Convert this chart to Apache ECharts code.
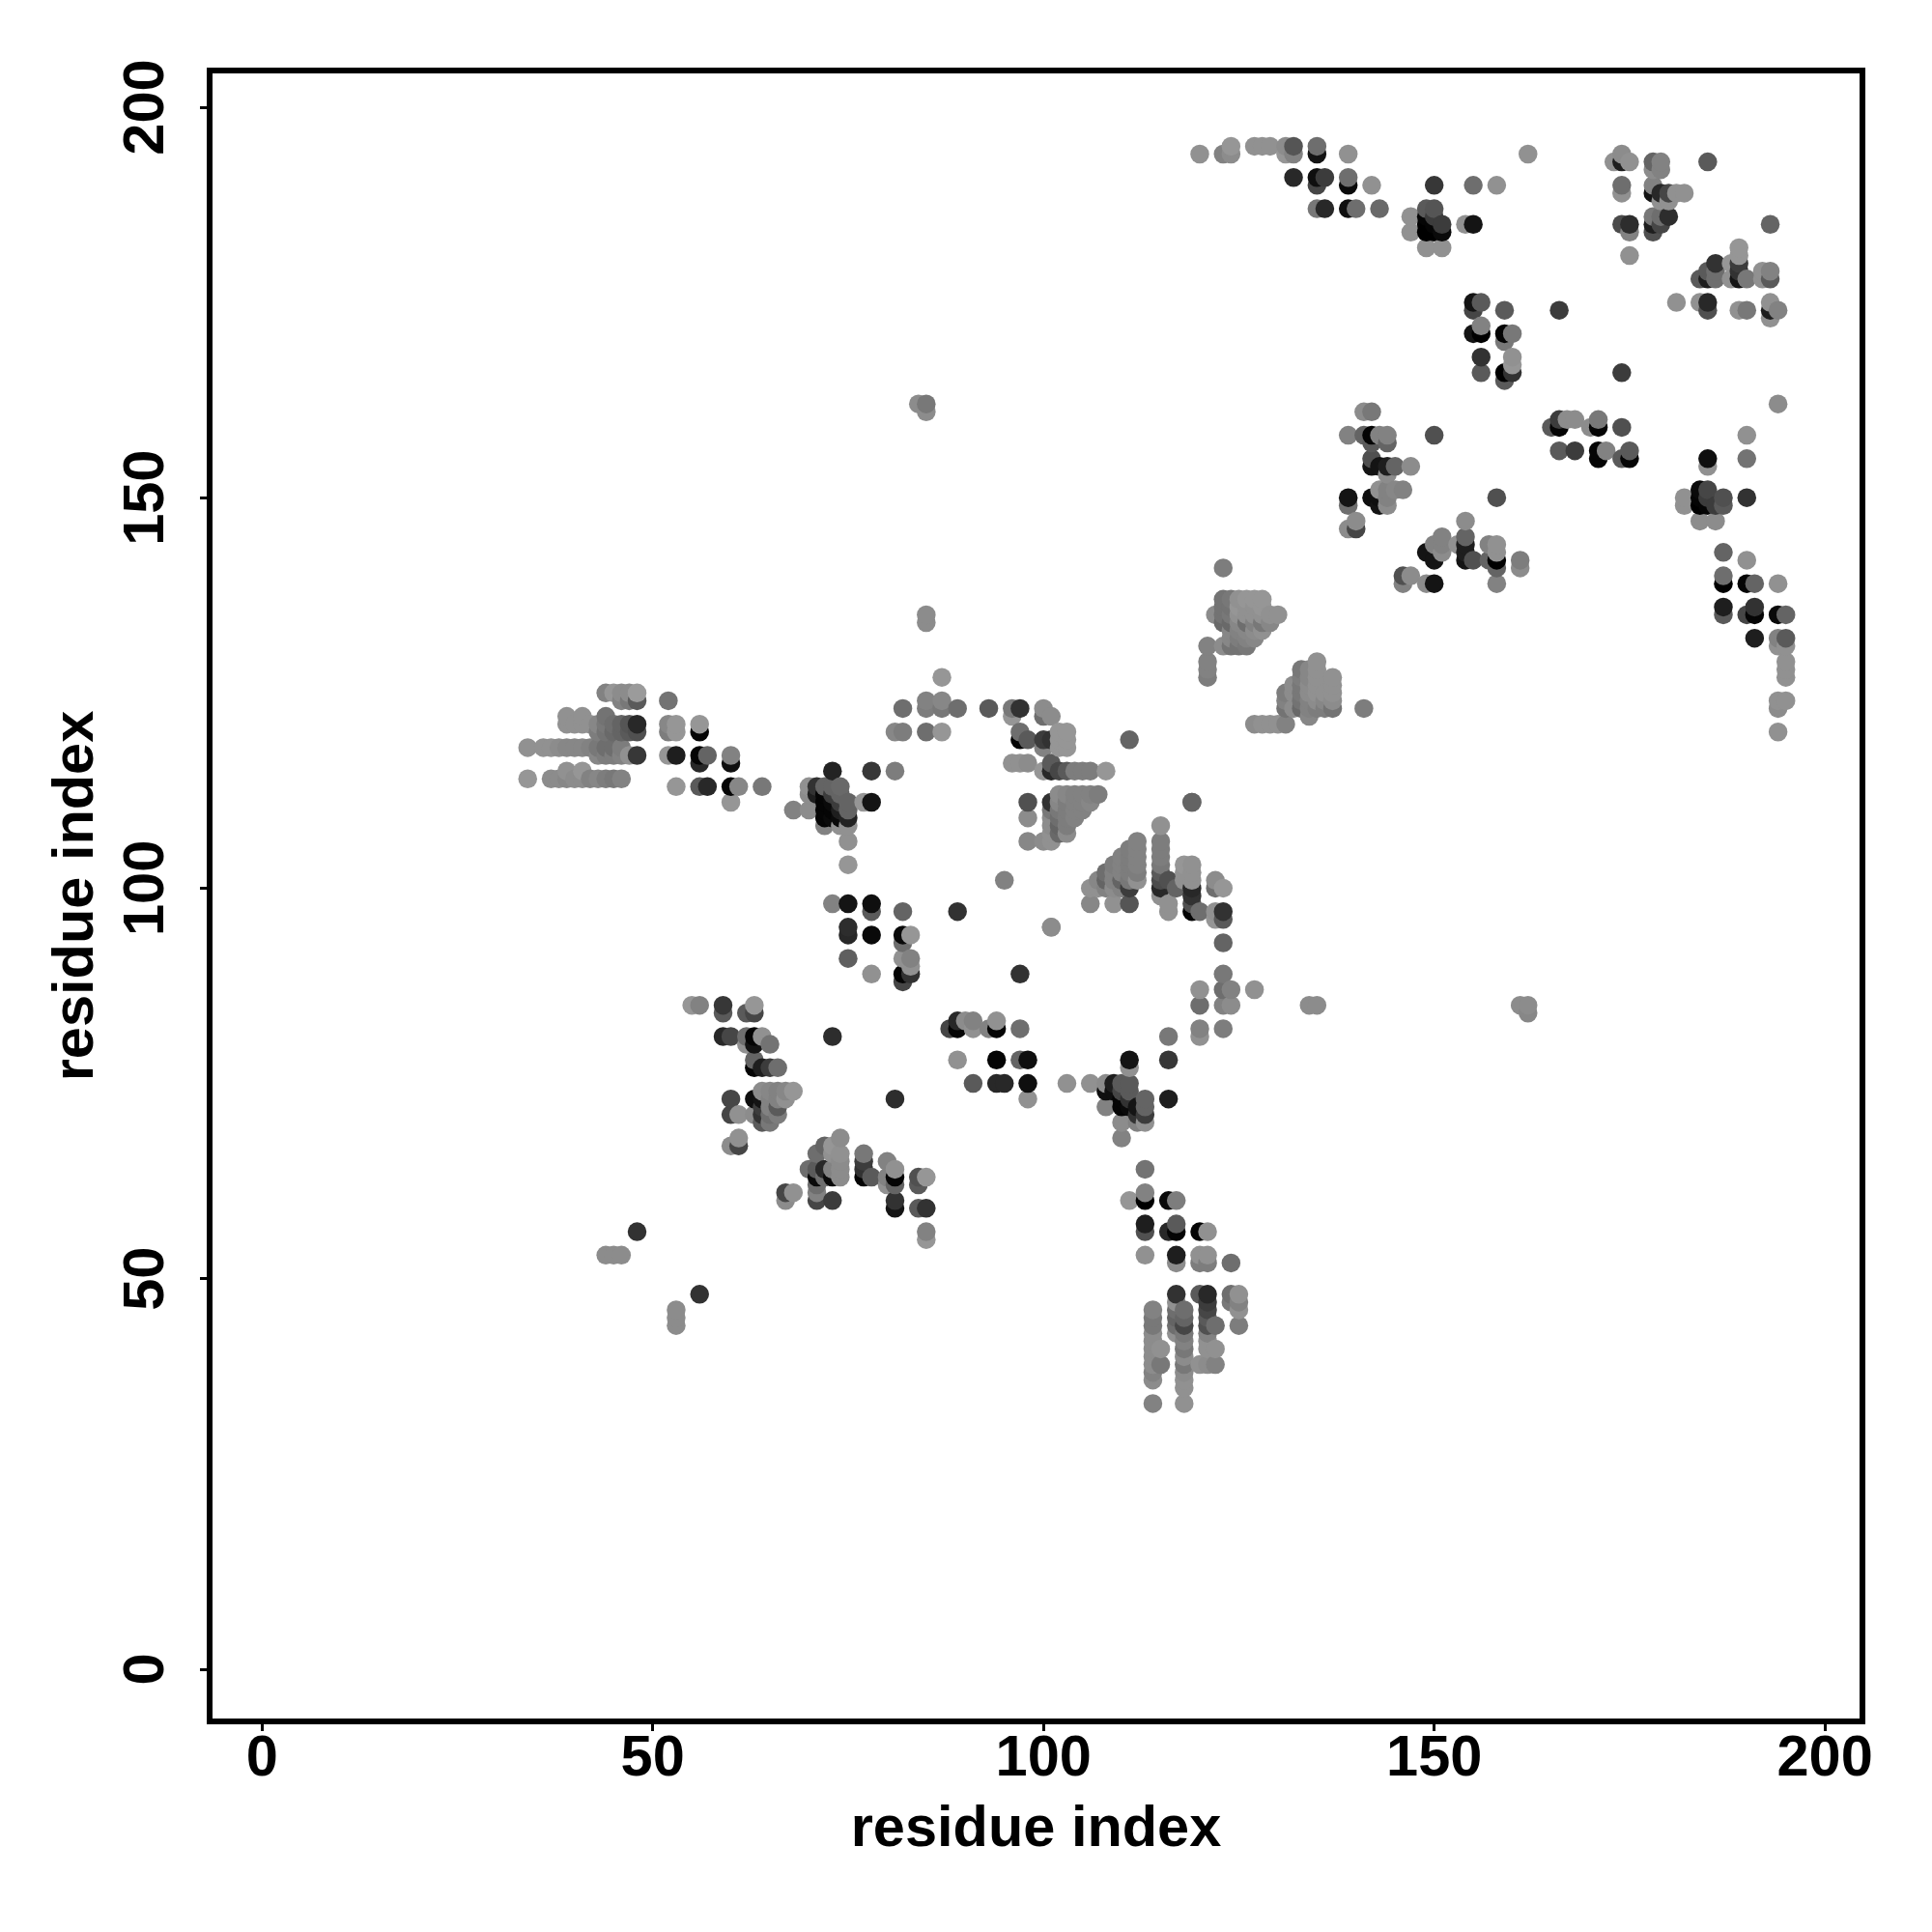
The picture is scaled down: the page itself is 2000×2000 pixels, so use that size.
<!DOCTYPE html>
<html><head><meta charset="utf-8"><style>html,body{margin:0;background:#fff}#c{width:2000px;height:2000px}</style>
<script src="https://cdn.jsdelivr.net/npm/echarts@6/dist/echarts.min.js"></script></head><body><div id="c"></div>
<script>
// each row: residue y, then pairs of residue x and grey level
const helixA=[
[125,44,130,45,150,46,140,47,140,48,155],[124,46,130,47,120,48,90],[122,39,145,41,145,44,115],
[121,39,145,40,145,41,145,42,145,43,135,44,120,45,110,46,100,47,85,48,40],[120,43,125,44,115,45,105,46,100,47,90,48,80],
[118,34,145,36,145,37,145,38,140,39,135,40,135,41,135,42,130,43,120,44,110,45,110,46,125],
[117,43,135,44,125,45,125,46,130,47,145,48,55],[115,39,145,41,150],
[114,34,150,37,140,38,140,39,135,40,140,41,140,42,130,43,135,44,125,45,120,46,130],
[124,52,115],[121,52,135,53,150,56,150],[120,52,125,53,150,56,5],[117,52,150,53,30,56,5,57,100,60,130],
[116,56,40,60,15],[113,53,150,56,90,57,40,60,5,61,135,64,120],[111,60,150]];
const clusterB=[
[115,73,35,78,55,81,125],[113,70,145,71,50,72,100,73,100,74,105],[112,70,140,71,30,72,5,73,60,74,100],
[111,72,5,73,10,74,60,75,100,77,150,78,20],[110,68,130,70,140,72,5,73,5,74,30,75,100],[109,72,5,73,10,74,10,75,35],
[108,72,130,74,145,75,145],[106,75,145],[103,75,150],[98,73,130,75,20,78,15],[97,78,90,82,100,89,50],
[95,75,45,101,140],[94,75,40,78,10,82,10,83,150],[93,82,110],[91,75,95,82,145,83,130],[90,83,145],
[89,78,145,82,5,83,50,97,50],[88,82,70],[101,95,130],
[127,87,150],[124,85,130,87,135],[123,82,110,85,125,87,120,89,110],[120,81,135,82,125,85,110,87,150]];
const clusterC=[
[123,93,90,96,120,97,50,100,140],[122,96,150,100,110,101,140],[120,97,110,102,150,103,150],
[119,97,5,98,90,100,60,101,50,102,150,103,150,111,100],[118,100,130,102,150,103,150],[116,96,145,97,145,98,140,101,90],
[115,100,150,101,40,102,70,103,90,104,125,105,125,106,125,108,150],
[112,102,140,103,135,104,130,105,130,106,130,107,125],[111,98,80,101,50,102,135,103,125,104,130,105,130,106,135,119,100],
[110,101,120,102,120,103,125,104,130,105,130],[109,98,140,101,140,102,110,103,125,104,130],[108,101,140,102,100,103,125],
[107,101,145,102,105,103,140],[106,98,135,100,140,101,145]];
const triangleD=[
[106,112,130],[105,111,125,112,130],[104,110,130,111,125,112,130],[103,109,125,110,130,111,125,112,130],
[102,108,110,109,130,110,130,111,125,112,125],[101,107,135,108,100,109,130,110,100,111,120,112,145],
[100,106,145,107,145,108,130,109,140,110,130,111,60],[98,106,135,109,145,111,85],
[108,115,145],[106,115,125],[105,115,125],[104,115,125],[103,115,120,118,150,119,145],[102,115,90,118,145,119,145],
[101,115,75,116,80,118,145,119,145,122,140],[100,115,40,117,100,119,40,122,110,123,150],[99,115,145,119,50],
[98,116,145,119,80],[97,116,145,119,5,120,110,122,145,123,50],[96,122,150,123,90],[93,123,100],
[111,119,100],[95,101,140]];
const triangleE=[
[141,123,125],[137,123,115,124,120,125,145,126,150,127,150,128,150],[136,123,115,124,115,125,150,126,145,127,145,128,150],
[135,122,140,123,115,124,120,125,145,126,145,127,145,128,145,129,145,130,145],[134,123,105,124,105,125,135,126,110,127,130,128,120,129,135],
[133,124,135,125,130,126,135,127,140,128,145],[132,124,135,125,125,126,130,127,135],[131,121,130,123,140,124,115,125,115,126,120],
[129,121,130,135,145],[128,121,130,133,120,134,135,135,145],[127,121,125,133,125,134,135,135,145,137,145],
[126,132,140,133,120,134,140,135,145,137,145],[125,131,125,132,140,133,120,134,140,135,145,136,145,137,145],
[124,131,130,133,115,134,130,135,140,136,135,137,140],[123,131,115,132,140,133,105,134,130,135,125,136,125,137,115,141,125],
[122,134,135],[121,127,140,128,145,129,145,130,145,131,130]];
const topLeft=[
[195,124,150,127,145,128,145,129,145,131,140,132,85,135,110],[194,120,145,123,130,124,140,131,150,132,130,135,20,139,145,162,145],
[191,132,40,135,15,136,60,139,110],[190,135,70,139,10,142,145,150,55,155,110,158,145],
[187,135,120,136,40,139,15,140,110,143,105,149,90,150,85],[186,147,145,149,5,150,60],[185,149,0,150,5,151,60,154,145,155,20],
[184,147,145,149,0,150,0,151,10],[182,149,145,151,145],[175,155,20,156,90],[174,155,70,159,90,166,60],
[172,156,130],[171,155,20,156,0,159,5,160,120],[170,159,120],[168,156,50,160,145],[167,160,150],[166,156,90,159,0,160,50,174,60],[165,159,90]];
const topRight=[
[194,174,140],[193,173,145,174,30,175,145,178,100,179,130,185,90],[192,178,140,179,130],[190,174,110,178,130],
[189,174,145,178,20,179,40,180,70,181,145,182,145],[188,179,145,180,145],[186,178,120,179,110,180,45],[185,174,75,175,45,178,30,179,70,193,100],
[184,175,130,178,80],[181,175,145],[182,189,150],[181,189,150],[180,186,50,188,150,189,60],[179,185,90,186,110,189,50,192,145,193,130],
[178,184,90,185,30,186,110,188,145,189,20,190,120,192,145,193,90],[175,181,145,184,145,185,40,193,145],[174,185,80,189,145,190,120,193,30,194,130],[173,193,145],[162,194,140]];
const midRight=[
[161,141,140,142,120],[158,139,130,141,100,142,5,143,130,144,130,150,80,190,145],[157,142,90,144,100],[155,142,80,185,15,190,115],
[154,142,20,143,20,144,30,145,100,147,140,185,145],[153,144,140],[151,143,145,144,130,145,135,146,130,184,10,185,70],
[150,139,20,142,15,143,15,144,130,158,80,182,145,184,5,185,60,187,80,190,50],[149,139,110,143,20,144,140,182,145,184,0,185,5,186,60,187,90],
[147,140,140,154,140,184,140,186,140],[146,139,140,140,70],[145,151,130,154,100],[144,150,130,151,130,153,145,154,30,157,130,158,145],
[143,149,20,151,140,154,30,158,145,187,100],[142,150,20,154,20,155,80,157,100,158,0,161,125,190,145],[141,158,100,161,140],
[140,146,80,147,140,187,110],[139,146,130,149,140,150,20,158,130,187,0,190,5,191,100,194,145],
[160,166,60,167,140,168,140,171,120],[159,165,90,166,5,170,140,171,5,174,80],[156,166,90,168,60,171,5,172,130,175,90],[155,171,5,174,90,175,5],
[136,187,30,191,50],[135,187,90,190,70,191,5,194,10,195,100],[132,191,30,194,130,195,90],[131,194,145,195,145],
[129,195,145],[128,195,145],[127,195,145],[124,194,145,195,145],[123,194,140],[120,194,145]];
const strandF=[
[85,55,150,56,130,59,55,63,150,120,110,123,130,124,140,134,140,135,140,161,140,162,140],[84,59,90,62,90,63,70,162,135],
[81,59,40,60,70,62,110,63,5,64,145,73,45,116,120,120,145],[80,62,145,63,20,65,115],[78,63,100,89,145,94,5,97,100,98,15,111,20,116,55],
[77,63,5,64,30,65,60,66,110,111,145],[74,64,140,65,135,66,130,67,135,68,150,108,15,109,15,110,70,111,90],
[73,60,70,63,15,64,20,65,130,66,130,67,145,81,45,98,145,110,5,111,50,113,100,116,30],[72,64,60,65,130,66,90,108,130,110,5,111,10,112,20,113,100],
[71,60,70,61,145,63,140,64,50,65,110,66,125,112,50,113,60],[70,64,90,65,120,110,140,112,130,113,145],[68,61,145,74,140,110,130],[67,60,140,61,70,72,100,73,150],
[66,71,110,73,145,74,145,77,120],[65,74,140,77,60,80,130],[64,70,110,71,90,72,40,73,130,74,140,77,50,81,145,113,115],
[63,71,10,72,110,73,10,74,140,77,5,78,90,80,130,81,5,84,80,85,150],[62,71,110,80,145,81,100,84,90],[61,67,70,68,145,71,130,113,130],
[60,67,140,71,70,73,60,81,50,111,150,113,0,116,10,117,125],[59,81,20,84,90,85,50],[57,113,30,117,90],[56,48,50,85,130,113,80,116,40,117,5,120,5,121,145],
[55,85,150],[53,44,140,45,140,46,140,113,145,117,30,120,145,121,145],[52,117,140,120,125,121,125,124,110]];
const chainG=[
[89,123,120],[87,120,145,123,110,124,130,127,145],[83,89,40,90,140,91,130,94,145],[82,88,70,89,5,91,145,93,130,94,5,97,110,120,130,123,125],
[75,91,90,94,40,95,40,98,15,103,145,106,145,108,140,109,30,110,90,111,90],
[48,56,50,117,50,120,90,121,40,124,110,125,145],[47,117,145,121,60,124,120,125,130],[46,53,140,114,130,117,110,118,110,121,70,125,145],
[45,53,140,114,120,117,100,118,100,121,90],[44,53,140,114,120,117,110,118,70,121,80,122,110,125,125],[43,114,140,117,145,118,120,121,130],
[42,114,140,118,130,121,145],[41,114,140,115,145,118,120,121,145,122,145],[40,114,140,118,140],[39,114,140,115,120,118,120,120,145,121,140,122,130],
[38,114,130,118,140],[37,114,140,118,145],[36,118,145],[34,114,130,118,145],
[162,84,140,85,120],[161,85,140],[135,85,140],[134,85,140]];
const xTicks=[0,50,100,150,200], yTicks=[0,50,100,150,200];

const groups=[helixA,clusterB,clusterC,triangleD,triangleE,topLeft,topRight,midRight,strandF,chainG];
const points=[];
groups.forEach(g=>g.forEach(r=>{for(let i=1;i<r.length;i+=2)points.push([r[i],r[0],r[i+1]]);}));
points.sort((a,b)=>a[0]-b[0]||a[1]-b[1]);
const font='"Liberation Sans"';
function axis(ticks,extra){return Object.assign({type:'value',splitLine:{show:false},
 nameLocation:'middle',name:'residue index',nameMoveOverlap:false,nameTextStyle:{fontFamily:font,fontWeight:'bold',fontSize:59.5,color:'#000'},
 axisLine:{show:false,onZero:false},axisTick:{show:true,length:10,lineStyle:{color:'#000',width:3},customValues:ticks},
 axisLabel:{fontFamily:font,fontWeight:'bold',fontSize:59.5,color:'#000',customValues:ticks,hideOverlap:false}},extra);}
const chart=echarts.init(document.getElementById('c'),null,{renderer:'canvas'});
const xA=axis(xTicks,{min:-6.7,max:204.8,nameGap:83});xA.axisLabel.margin=10;
const yA=axis(yTicks,{min:-6.7,max:204.7,nameGap:107,nameRotate:90});yA.axisLabel.rotate=90;yA.axisLabel.margin=34;
chart.setOption({animation:false,backgroundColor:'#fff',
 grid:{left:217,top:73,width:1711,height:1709,show:true,borderColor:'#000',borderWidth:6,backgroundColor:'transparent'},
 xAxis:xA,yAxis:yA,
 series:[{type:'scatter',symbol:'circle',symbolSize:19.5,data:points,encode:{x:0,y:1},
  itemStyle:{opacity:1,color:p=>{const g=p.data[2];return 'rgb('+g+','+g+','+g+')';}},silent:true,z:3}]});
</script></body></html>
